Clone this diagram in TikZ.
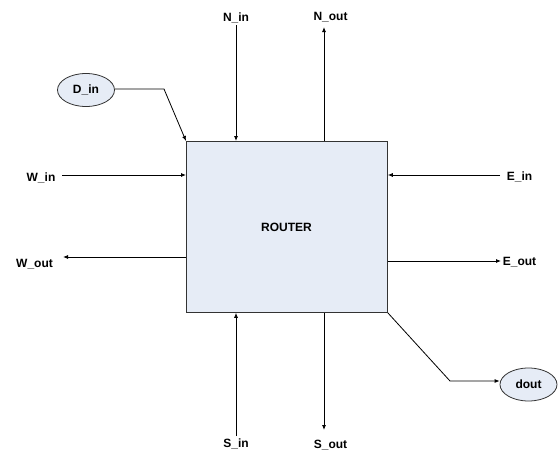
\documentclass[tikz,border=0pt]{standalone}
\usepackage{fontspec}
\setmainfont{Liberation Sans}
\usetikzlibrary{arrows.meta,shapes.geometric}
\definecolor{boxfill}{HTML}{E6ECF6}
\definecolor{edgec}{HTML}{333333}
\begin{document}
\begin{tikzpicture}[x=1pt,y=-1pt,
  lbl/.style={font=\fontsize{12}{14}\selectfont\bfseries, inner sep=0pt, anchor=base},
  conn/.style={line width=0.8pt, draw=black, -{Latex[length=5pt,width=4pt]}},
  ell/.style={ellipse, draw=edgec, fill=boxfill, line width=0.8pt, minimum width=57pt, minimum height=33pt, inner sep=0pt, font=\fontsize{12}{14}\selectfont\bfseries},
  routerbox/.style={draw=edgec, fill=boxfill, line width=0.8pt, minimum width=201pt, minimum height=171pt, inner sep=0pt}]
\path[use as bounding box] (0,0) rectangle (560,450);
\node[routerbox, anchor=north west] (router) at (186,141) {};
\node[lbl] (routerlbl) at (286.5,231) {ROUTER};
% labels
\node[lbl] (nin) at (236,21) {N\_in};
\node[lbl] (nout) at (330.5,20) {N\_out};
\node[lbl] (win) at (41,181) {W\_in};
\node[lbl] (ein) at (519.5,180) {E\_in};
\node[lbl] (wout) at (34.5,267) {W\_out};
\node[lbl] (eout) at (519.5,265) {E\_out};
\node[lbl] (sin) at (236,447) {S\_in};
\node[lbl] (sout) at (330.5,448) {S\_out};
\node[ell] (din) at (86,90) {D\_in};
\node[ell] (dout) at (528.5,384.5) {dout};
% connector ends
\coordinate (ninA) at (236,25);
\coordinate (noutA) at (324,27);
\coordinate (winA) at (62,175);
\coordinate (einA) at (500,175);
\coordinate (woutA) at (63,257);
\coordinate (eoutA) at (501,261);
\coordinate (sinA) at (236,436);
\coordinate (soutA) at (324,430);
\coordinate (dinbend) at (164,89);
\coordinate (doutbend) at (450,381);
% connectors
\draw[conn] (ninA) -- (ninA |- router.north);
\draw[conn] (noutA |- router.north) -- (noutA);
\draw[conn] (winA) -- (winA -| router.west);
\draw[conn] (einA) -- (einA -| router.east);
\draw[conn] (woutA -| router.west) -- (woutA);
\draw[conn] (eoutA -| router.east) -- (eoutA);
\draw[conn] (sinA) -- (sinA |- router.south);
\draw[conn] (soutA |- router.south) -- (soutA);
\draw[conn] (din.east |- dinbend) -- (dinbend) -- (router.north west);
\draw[conn] (router.south east) -- (doutbend) -- (doutbend -| dout.west);
\end{tikzpicture}
\end{document}
